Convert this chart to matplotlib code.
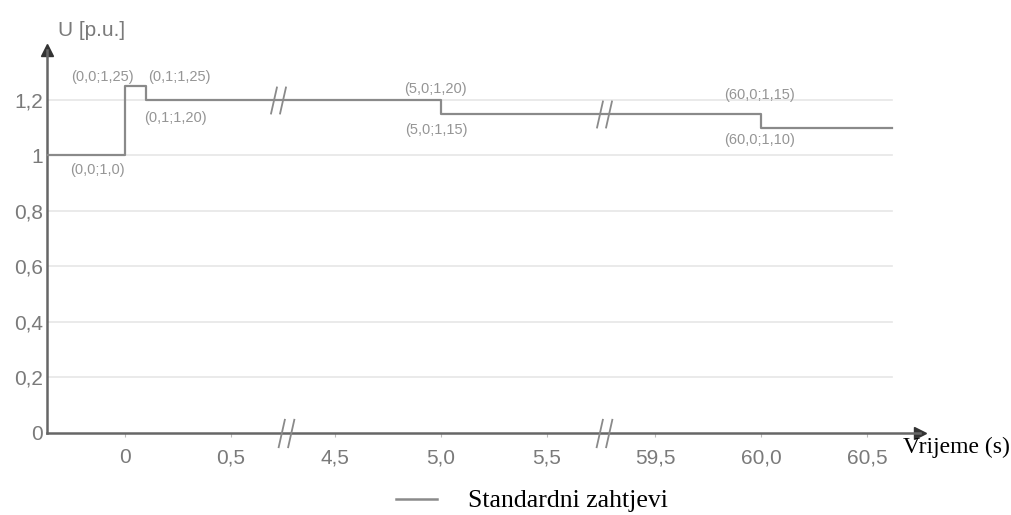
import numpy as np
import matplotlib
matplotlib.use('Agg')
import matplotlib.pyplot as plt
from matplotlib.path import Path

# step curve: time (s) and voltage (p.u.)
t = [-0.37, 0.0, 0.0, 0.1, 0.1, 5.0, 5.0, 60.0, 60.0, 60.62]
u = [1.0, 1.0, 1.25, 1.25, 1.20, 1.20, 1.15, 1.15, 1.10, 1.10]

# corner labels
ann_t = [0.0, 0.1, 0.1, 0.0, 5.0, 5.0, 60.0, 60.0]
ann_u = [1.25, 1.25, 1.20, 1.0, 1.20, 1.15, 1.15, 1.10]
ann_txt = ['(0,0;1,25)', '(0,1;1,25)', '(0,1;1,20)', '(0,0;1,0)',
           '(5,0;1,20)', '(5,0;1,15)', '(60,0;1,15)', '(60,0;1,10)']

xticks = [0, 0.5, 4.5, 5.0, 5.5, 59.5, 60.0, 60.5]
xlabels = ['0', '0,5', '4,5', '5,0', '5,5', '59,5', '60,0', '60,5']
yticks = [0, 0.2, 0.4, 0.6, 0.8, 1.0, 1.2]
ylabels = ['0', '0,2', '0,4', '0,6', '0,8', '1', '1,2']

# axis breaks (start, end) of the cut-out time ranges
breaks = [(0.76, 4.27), (5.77, 59.26)]
curve_brk = [0.72, 5.78]

# piecewise linear "broken" time axis
xp = [-1000.0]
fp = [-1000.0]
shift = 0.0
for a, b in breaks:
    xp += [a, b]
    fp += [a - shift, a - shift + 1e-3]
    shift += (b - a) - 1e-3
xp.append(1000.0)
fp.append(1000.0 - shift)
xp = np.array(xp); fp = np.array(fp)

def fwd(x):
    return np.interp(x, xp, fp)

def inv(y):
    return np.interp(y, fp, xp)

grey = '#8a8a8a'
axc = '#666666'
sans = 'Liberation Sans'
serif = 'Liberation Serif'

fig = plt.figure(figsize=(10.11, 5.15), dpi=100)
ax = fig.add_axes([47/1011, 82/515, 873/1011, 383/515])
ax.set_xscale('function', functions=(fwd, inv))
ax.set_xlim(-0.368, 60.75)
ax.set_ylim(0, 1.38)

for y in yticks[1:]:
    ax.plot([t[0], t[-1]], [y, y], color='#e6e6e6', lw=1.2, zorder=1)

ax.plot(t, u, color=grey, lw=1.6, zorder=3)

offs = [(-23, 9), (33, 9), (29, -18), (-28, -15),
        (-5, 11), (-5, -16), (-2, 19), (-2, -12)]
for x, y, s, o in zip(ann_t, ann_u, ann_txt, offs):
    ax.annotate(s, (x, y), xytext=o, textcoords='offset pixels',
                ha='center', va='center', fontsize=10.5, color='#959595',
                family=sans)

# break marks
brk = Path([(-0.55, -1), (-0.1, 1), (0.1, -1), (0.55, 1)],
           [Path.MOVETO, Path.LINETO, Path.MOVETO, Path.LINETO])
ax.plot(curve_brk, np.interp(curve_brk, t, u), ls='none', marker=brk,
        markersize=20, mew=1.3, mec=grey, zorder=4)
ax.plot([a for a, b in breaks], [0, 0], ls='none', marker=brk, markersize=21,
        mew=1.3, mec=grey, clip_on=False, zorder=4)

for side in ['top', 'right']:
    ax.spines[side].set_visible(False)
for side in ['left', 'bottom']:
    ax.spines[side].set_color(axc)
    ax.spines[side].set_linewidth(1.8)
ax.plot(1, 0, '>', color='#333333', ms=9, transform=ax.transAxes, clip_on=False)
ax.plot(0, 1, '^', color='#333333', ms=9, transform=ax.transAxes, clip_on=False)

ax.set_xticks(xticks)
ax.set_xticklabels(xlabels, family=sans)
ax.set_yticks(yticks)
ax.set_yticklabels(ylabels, family=sans)
ax.xaxis.set_minor_locator(matplotlib.ticker.NullLocator())
ax.tick_params(axis='x', length=3, color='#bbbbbb', pad=8, labelsize=15, labelcolor='#7a7a7a')
ax.tick_params(axis='y', length=0, pad=3, labelsize=15, labelcolor='#7a7a7a')

fig.text(58/1011, 1 - 30/515, 'U [p.u.]', fontsize=15, color='#7a7a7a', va='center',
         family=sans)
fig.text(903/1011, 1 - 447/515, 'Vrijeme (s)', fontsize=17, family=serif,
         va='center', color='black')

h, = ax.plot([], [], color=grey, lw=1.8, label='Standardni zahtjevi')
fig.legend(handles=[h], loc='center', bbox_to_anchor=(532/1011, 1 - 501/515),
           frameon=False, handlelength=1.6, handletextpad=1.2,
           prop={'family': serif, 'size': 18.5})

fig.savefig('out.png', dpi=100)
